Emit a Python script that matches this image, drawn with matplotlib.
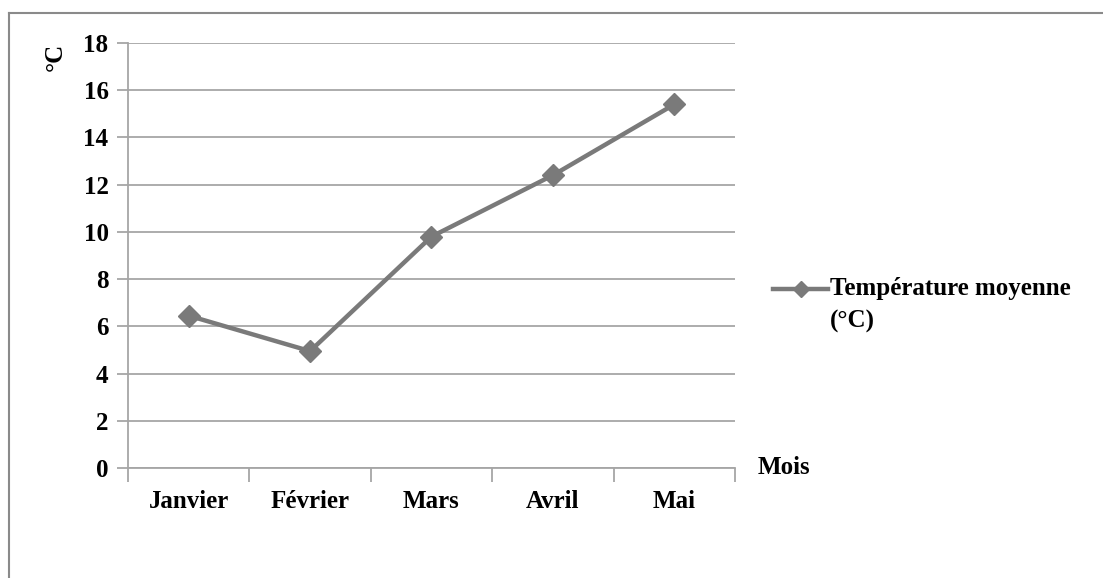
import matplotlib.pyplot as plt
import matplotlib.lines as mlines
import numpy as np

mois = ['Janvier', 'Février', 'Mars', 'Avril', 'Mai']
temperature = [6.45, 4.95, 9.8, 12.4, 15.4]
y_ticks = [0, 2, 4, 6, 8, 10, 12, 14, 16, 18]

plt.rcParams['font.family'] = ['Liberation Serif', 'DejaVu Serif']
plt.rcParams['font.weight'] = 'bold'

W, H = 1103, 578
fig = plt.figure(figsize=(W / 100, H / 100), dpi=100)

# cadre gris du graphique (gauche et haut seulement)
cadre = '#8a8a8a'
fig.add_artist(mlines.Line2D([9 / W, 9 / W], [0, 1 - 13 / H], color=cadre, linewidth=1.5))
fig.add_artist(mlines.Line2D([9 / W, 1], [1 - 13 / H, 1 - 13 / H], color=cadre, linewidth=1.5))

ax = fig.add_axes([128 / W, 1 - 468 / H, (735 - 128) / W, (468 - 43) / H])

line_col = '#7a7a7a'
grid_col = '#a6a6a6'

x = np.arange(len(mois))
ax.plot(x, temperature, color=line_col, linewidth=3.2, marker='D',
        markersize=11, markerfacecolor=line_col, markeredgecolor=line_col,
        label='Température moyenne\n(°C)', zorder=3)

ax.set_xlim(-0.5, len(mois) - 0.5)
ax.set_ylim(0, 18)
ax.set_yticks(y_ticks)
ax.set_yticklabels([str(v) for v in y_ticks], fontsize=18, fontweight='bold')
ax.set_xticks(x)
ax.set_xticklabels(mois, fontsize=18, fontweight='bold')
ax.set_xticks(np.arange(-0.5, len(mois)), minor=True)

ax.grid(axis='y', color=grid_col, linewidth=1.3)
ax.set_axisbelow(True)

for s in ['top', 'right']:
    ax.spines[s].set_visible(False)
for s in ['left', 'bottom']:
    ax.spines[s].set_color(grid_col)
    ax.spines[s].set_linewidth(1.3)

ax.tick_params(axis='y', length=8, width=1.3, color=grid_col, pad=6)
ax.tick_params(axis='x', which='major', length=0, pad=16)
ax.tick_params(axis='x', which='minor', length=10, width=1.3, color=grid_col)

# titres des axes
fig.text(55 / W, 1 - 57 / H, '°C', rotation=90, fontsize=18, fontweight='bold',
         ha='center', va='center')
fig.text(758 / W, 1 - 467 / H, 'Mois', fontsize=18, fontweight='bold',
         ha='left', va='center')

leg = ax.legend(loc='center left', bbox_to_anchor=(763 / W, 1 - 305 / H),
                bbox_transform=fig.transFigure, frameon=False,
                prop={'size': 18, 'weight': 'bold'}, handlelength=2.2,
                handletextpad=0.08, markerscale=0.7, borderaxespad=0)
for t in leg.get_texts():
    t.set_linespacing(1.55)
# le symbole de la légende est aligné sur la première ligne
for h in leg.legend_handles:
    h.set_ydata(np.asarray(h.get_ydata()) + 12)

fig.savefig('out.png', dpi=100)
